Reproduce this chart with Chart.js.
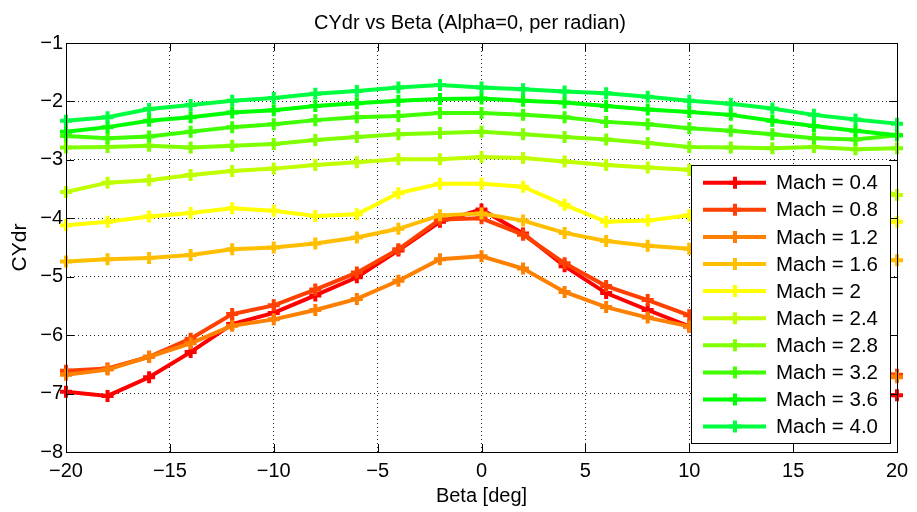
<!DOCTYPE html>
<html>
<head>
<meta charset="utf-8">
<script src="https://cdn.jsdelivr.net/npm/chart.js@4"></script>
<style>
  html, body { margin: 0; padding: 0; background: #fff; }
  #wrap { width: 917px; height: 512px; }
</style>
</head>
<body>
<div id="wrap"><canvas id="myChart" width="917" height="512"></canvas></div>
<script>
// beta angles in degrees
const betaDeg = [-20, -18, -16, -14, -12, -10, -8, -6, -4, -2, 0, 2, 4, 6, 8, 10, 12, 14, 16, 18, 20]

// CYdr per Mach number
const mach04 = [-6.97, -7.04, -6.72, -6.29, -5.81, -5.62, -5.32, -5.01, -4.55, -4.06, -3.85, -4.26, -4.82, -5.28, -5.57, -5.85, -6.10, -6.40, -6.75, -7.00, -7.03]
const mach08 = [-6.61, -6.57, -6.37, -6.06, -5.64, -5.49, -5.22, -4.93, -4.53, -4.02, -4.00, -4.28, -4.77, -5.16, -5.40, -5.66, -5.95, -6.20, -6.40, -6.60, -6.68]
const mach12 = [-6.68, -6.59, -6.37, -6.14, -5.84, -5.73, -5.57, -5.38, -5.07, -4.70, -4.65, -4.86, -5.26, -5.52, -5.70, -5.85, -6.05, -6.25, -6.45, -6.60, -6.72]
const mach16 = [-4.74, -4.70, -4.68, -4.63, -4.53, -4.50, -4.43, -4.33, -4.18, -3.95, -3.92, -4.04, -4.25, -4.39, -4.47, -4.52, -4.57, -4.62, -4.66, -4.70, -4.72]
const mach20 = [-4.12, -4.06, -3.97, -3.91, -3.83, -3.87, -3.96, -3.93, -3.57, -3.41, -3.41, -3.46, -3.77, -4.06, -4.04, -3.95, -3.90, -3.93, -3.98, -4.03, -4.06]
const mach24 = [-3.55, -3.39, -3.35, -3.26, -3.19, -3.15, -3.09, -3.04, -2.99, -2.99, -2.95, -2.97, -3.03, -3.09, -3.13, -3.17, -3.22, -3.28, -3.35, -3.42, -3.60]
const mach28 = [-2.79, -2.78, -2.76, -2.79, -2.76, -2.73, -2.66, -2.61, -2.56, -2.54, -2.52, -2.56, -2.61, -2.65, -2.71, -2.78, -2.79, -2.80, -2.78, -2.82, -2.80]
const mach32 = [-2.59, -2.63, -2.60, -2.52, -2.44, -2.39, -2.32, -2.27, -2.25, -2.20, -2.20, -2.23, -2.27, -2.35, -2.39, -2.46, -2.50, -2.56, -2.63, -2.65, -2.58]
const mach36 = [-2.52, -2.44, -2.33, -2.27, -2.19, -2.15, -2.08, -2.03, -1.99, -1.96, -1.95, -1.99, -2.02, -2.08, -2.14, -2.18, -2.23, -2.33, -2.42, -2.50, -2.58]
const mach40 = [-2.33, -2.27, -2.13, -2.06, -1.99, -1.94, -1.87, -1.82, -1.76, -1.72, -1.76, -1.79, -1.83, -1.86, -1.92, -1.99, -2.04, -2.12, -2.23, -2.31, -2.38]

const machLabels = ['Mach = 0.4', 'Mach = 0.8', 'Mach = 1.2', 'Mach = 1.6', 'Mach = 2', 'Mach = 2.4', 'Mach = 2.8', 'Mach = 3.2', 'Mach = 3.6', 'Mach = 4.0']
const machSeries = [mach04, mach08, mach12, mach16, mach20, mach24, mach28, mach32, mach36, mach40]
const machColors = ['#ff0000', '#ff4000', '#ff8000', '#ffbf00', '#ffff00', '#bfff00', '#80ff00', '#40ff00', '#00ff00', '#00ff40']

const chartTitle = 'CYdr vs Beta (Alpha=0, per radian)'
const FONT = '"Liberation Sans", Arial, Helvetica, sans-serif'

const datasets = machSeries.map((vals, i) => ({
    label: machLabels[i],
    data: vals.map((v, j) => ({ x: betaDeg[j], y: v })),
    borderColor: machColors[i],
    backgroundColor: machColors[i],
    borderWidth: 4,
    pointStyle: 'cross',
    pointRadius: 6,
    pointBorderWidth: 4,
    pointBorderColor: machColors[i],
    tension: 0,
    clip: false,
    order: machSeries.length - i, // later series on top, like matlab
}))

const minus = v => String(v).replace('-', '\u2212')

// title, axes box, inward ticks and the legend box inside the plot
const boxPlugin = {
    id: 'boxPlugin',
    afterDatasetsDraw(chart) {
        const { ctx, chartArea: a, scales } = chart
        const xs = scales.x, ys = scales.y
        const tick = 8
        ctx.save()
        ctx.strokeStyle = '#000'
        ctx.lineWidth = 1
        ctx.strokeRect(a.left + 0.5, a.top + 0.5, a.right - a.left, a.bottom - a.top)
        ctx.beginPath()
        xs.ticks.forEach(t => {
            const px = Math.round(xs.getPixelForValue(t.value)) + 0.5
            ctx.moveTo(px, a.bottom); ctx.lineTo(px, a.bottom - tick)
            ctx.moveTo(px, a.top); ctx.lineTo(px, a.top + tick)
        })
        ys.ticks.forEach(t => {
            const py = Math.round(ys.getPixelForValue(t.value)) + 0.5
            ctx.moveTo(a.left, py); ctx.lineTo(a.left + tick, py)
            ctx.moveTo(a.right, py); ctx.lineTo(a.right - tick, py)
        })
        ctx.stroke()

        // title
        ctx.fillStyle = '#000'
        ctx.font = '20px ' + FONT
        ctx.textAlign = 'center'
        ctx.textBaseline = 'alphabetic'
        ctx.fillText(chartTitle, 470, 29)

        // legend
        const lx = 691, ly = 165, lw = 199, lh = 278
        const rowH = 27.1, firstRow = 182.7
        ctx.fillStyle = '#fff'
        ctx.fillRect(lx, ly, lw, lh)
        ctx.strokeRect(lx + 0.5, ly + 0.5, lw, lh)
        ctx.font = '20.5px ' + FONT
        ctx.textBaseline = 'middle'
        ctx.textAlign = 'left'
        chart.data.datasets.forEach((ds, i) => {
            const cy = firstRow + i * rowH
            ctx.strokeStyle = ds.borderColor
            ctx.lineWidth = 4
            ctx.beginPath()
            ctx.moveTo(703, cy); ctx.lineTo(766, cy)
            ctx.stroke()
            ctx.beginPath()
            ctx.moveTo(729, cy); ctx.lineTo(741, cy)
            ctx.moveTo(735, cy - 6); ctx.lineTo(735, cy + 6)
            ctx.stroke()
            ctx.fillStyle = '#000'
            ctx.fillText(ds.label, 776, cy + 1)
        })
        ctx.restore()
    }
}

const config = {
    type: 'line',
    data: { datasets: datasets },
    options: {
        responsive: false,
        animation: false,
        layout: { padding: { left: 0, right: 20, top: 43, bottom: 0 } },
        scales: {
            x: {
                type: 'linear',
                min: -20,
                max: 20,
                afterFit: s => { s.height = 60 },
                ticks: {
                    stepSize: 5,
                    color: '#000',
                    padding: 7,
                    font: { family: FONT, size: 20 },
                    callback: v => minus(v),
                },
                grid: { color: 'rgba(0,0,0,0.85)', lineWidth: 1, drawTicks: false },
                border: { display: false, dash: [1, 3] },
                title: {
                    display: true,
                    text: 'Beta [deg]',
                    color: '#000',
                    font: { family: FONT, size: 20 },
                    padding: { top: 0, bottom: 4 },
                },
            },
            y: {
                type: 'linear',
                min: -8,
                max: -1,
                afterFit: s => { s.width = 66 },
                ticks: {
                    stepSize: 1,
                    color: '#000',
                    padding: 3,
                    font: { family: FONT, size: 20 },
                    callback: v => minus(v),
                },
                grid: { color: 'rgba(0,0,0,0.85)', lineWidth: 1, drawTicks: false },
                border: { display: false, dash: [1, 3] },
                title: {
                    display: true,
                    text: 'CYdr',
                    color: '#000',
                    font: { family: FONT, size: 21 },
                    padding: { top: 8, bottom: 0 },
                },
            },
        },
        plugins: {
            legend: { display: false },
            tooltip: { enabled: false },
            title: { display: false },
        },
    },
    plugins: [boxPlugin],
}

const myChart = new Chart('myChart', config)
</script>
</body>
</html>
